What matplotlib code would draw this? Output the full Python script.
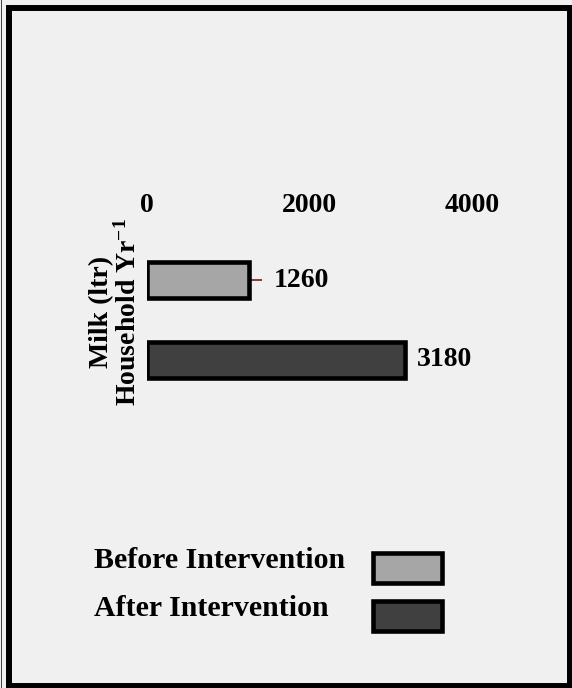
import matplotlib
matplotlib.use("Agg")
import matplotlib.pyplot as plt
from matplotlib.patches import Rectangle

plt.rcParams['font.family'] = ['Liberation Serif', 'DejaVu Serif']
plt.rcParams['font.weight'] = 'bold'
plt.rcParams['mathtext.fontset'] = 'custom'
plt.rcParams['mathtext.rm'] = 'Liberation Serif:bold'
plt.rcParams['mathtext.it'] = 'Liberation Serif:bold'
plt.rcParams['mathtext.bf'] = 'Liberation Serif:bold'

# data
groups = ["Before Intervention", "After Intervention"]
milk = [1260, 3180]
errors = [160, 0]
bar_colors = ["#a6a6a6", "#404040"]
xticks = [0, 2000, 4000]

W, H = 572, 688
fig = plt.figure(figsize=(W / 100, H / 100), dpi=100)
fig.patch.set_facecolor("#f0f0f0")


def px(x, y, w=0, h=0):
    # pixel box (from top-left) -> figure fraction
    return x / W, 1 - (y + h) / H, w / W, h / H


# frame round the whole picture
x0, y0, w0, h0 = px(9, 8, 561, 678)
fig.patches.append(Rectangle((x0, y0), w0, h0, transform=fig.transFigure,
                             fill=False, edgecolor="black", linewidth=4.3))
fig.patches.append(Rectangle((1 / W, 0), 1 / W, 1, transform=fig.transFigure,
                             color="#444444", linewidth=0))

ax = fig.add_axes(px(147, 240, 325, 160))
ax.set_facecolor("none")

pos = list(range(len(milk)))
bars = ax.barh(pos, milk, height=0.44, color=bar_colors, edgecolor="black", linewidth=3.3,
               xerr=errors, error_kw=dict(ecolor="#8b3a3a", elinewidth=1.4, capsize=0, zorder=1))
for b in bars:
    b.set_zorder(2)
ax.bar_label(bars, labels=[str(v) for v in milk], padding=8, fontsize=20, fontweight="bold")

ax.set_xlim(0, 4000)
ax.set_ylim(1.5, -0.5)
ax.xaxis.tick_top()
ax.set_xticks(xticks)
ax.set_xticklabels([str(t) for t in xticks], fontsize=20, fontweight="bold")
ax.tick_params(axis="x", length=0, pad=16)
ax.set_yticks([])
for s in ax.spines.values():
    s.set_visible(False)

# y label, two lines
fig.text(102 / W, 1 - 312 / H, "Milk (ltr)", rotation=90, ha="center", va="center",
         fontsize=20, fontweight="bold")
fig.text(128 / W, 1 - 312 / H, r"Household Yr$^{-1}$", rotation=90, ha="center", va="center",
         fontsize=20, fontweight="bold")

# legend: label on the left, key box on the right
baselines = [568, 616]
key_tops = [553, 601]
for name, c, yb, yk in zip(groups, bar_colors, baselines, key_tops):
    fig.text(94 / W, 1 - yb / H, name, ha="left", va="baseline", fontsize=21.5, fontweight="bold")
    kx, ky, kw, kh = px(373, yk, 69, 30)
    fig.patches.append(Rectangle((kx, ky), kw, kh, transform=fig.transFigure,
                                 facecolor=c, edgecolor="black", linewidth=3.3))

fig.savefig("out.png", dpi=100, facecolor=fig.get_facecolor())
